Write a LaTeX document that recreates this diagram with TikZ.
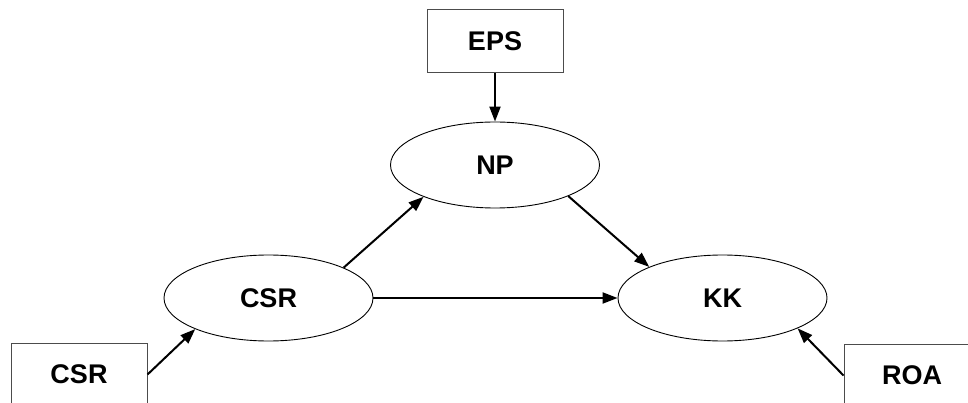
\documentclass[tikz,border=0pt]{standalone}
\usepackage{fontspec}
\setmainfont{Liberation Sans}
\usetikzlibrary{arrows.meta,shapes.geometric}
\begin{document}
\begin{tikzpicture}[x=1pt,y=1pt,
  lbl/.style={font=\fontsize{27}{31}\selectfont\bfseries},
  box/.style={lbl,draw=black!70,line width=1pt,minimum width=136pt,minimum height=63pt,inner sep=0pt},
  ell/.style={lbl,draw=black,line width=0.9pt,ellipse,minimum width=209pt,minimum height=86pt,inner sep=0pt},
  arr/.style={line width=2pt,-{Triangle[length=15pt,width=11pt]}}]
\useasboundingbox (0,0) rectangle (968,-403);
\clip (0,0) rectangle (968,-403);
\node[box] (eps) at (495,-41.5) {EPS};
\node[ell] (np) at (495,-165) {NP};
\node[ell] (csr) at (268.5,-298) {CSR};
\node[ell] (kk) at (722.5,-298) {KK};
\node[box] (csrbox) at (79,-374.5) {CSR};
\node[box] (roa) at (912,-375.5) {ROA};
\draw[arr] (eps.south) -- (np.north);
\draw[arr] (csr.22) -- (np.204);
\draw[arr] (np.-23) -- (kk.157);
\draw[arr] (csr.east) -- (kk.west);
\draw[arr] (csrbox.east) -- (csr.203);
\draw[arr] (roa.west) -- (kk.-22);
\end{tikzpicture}
\end{document}
